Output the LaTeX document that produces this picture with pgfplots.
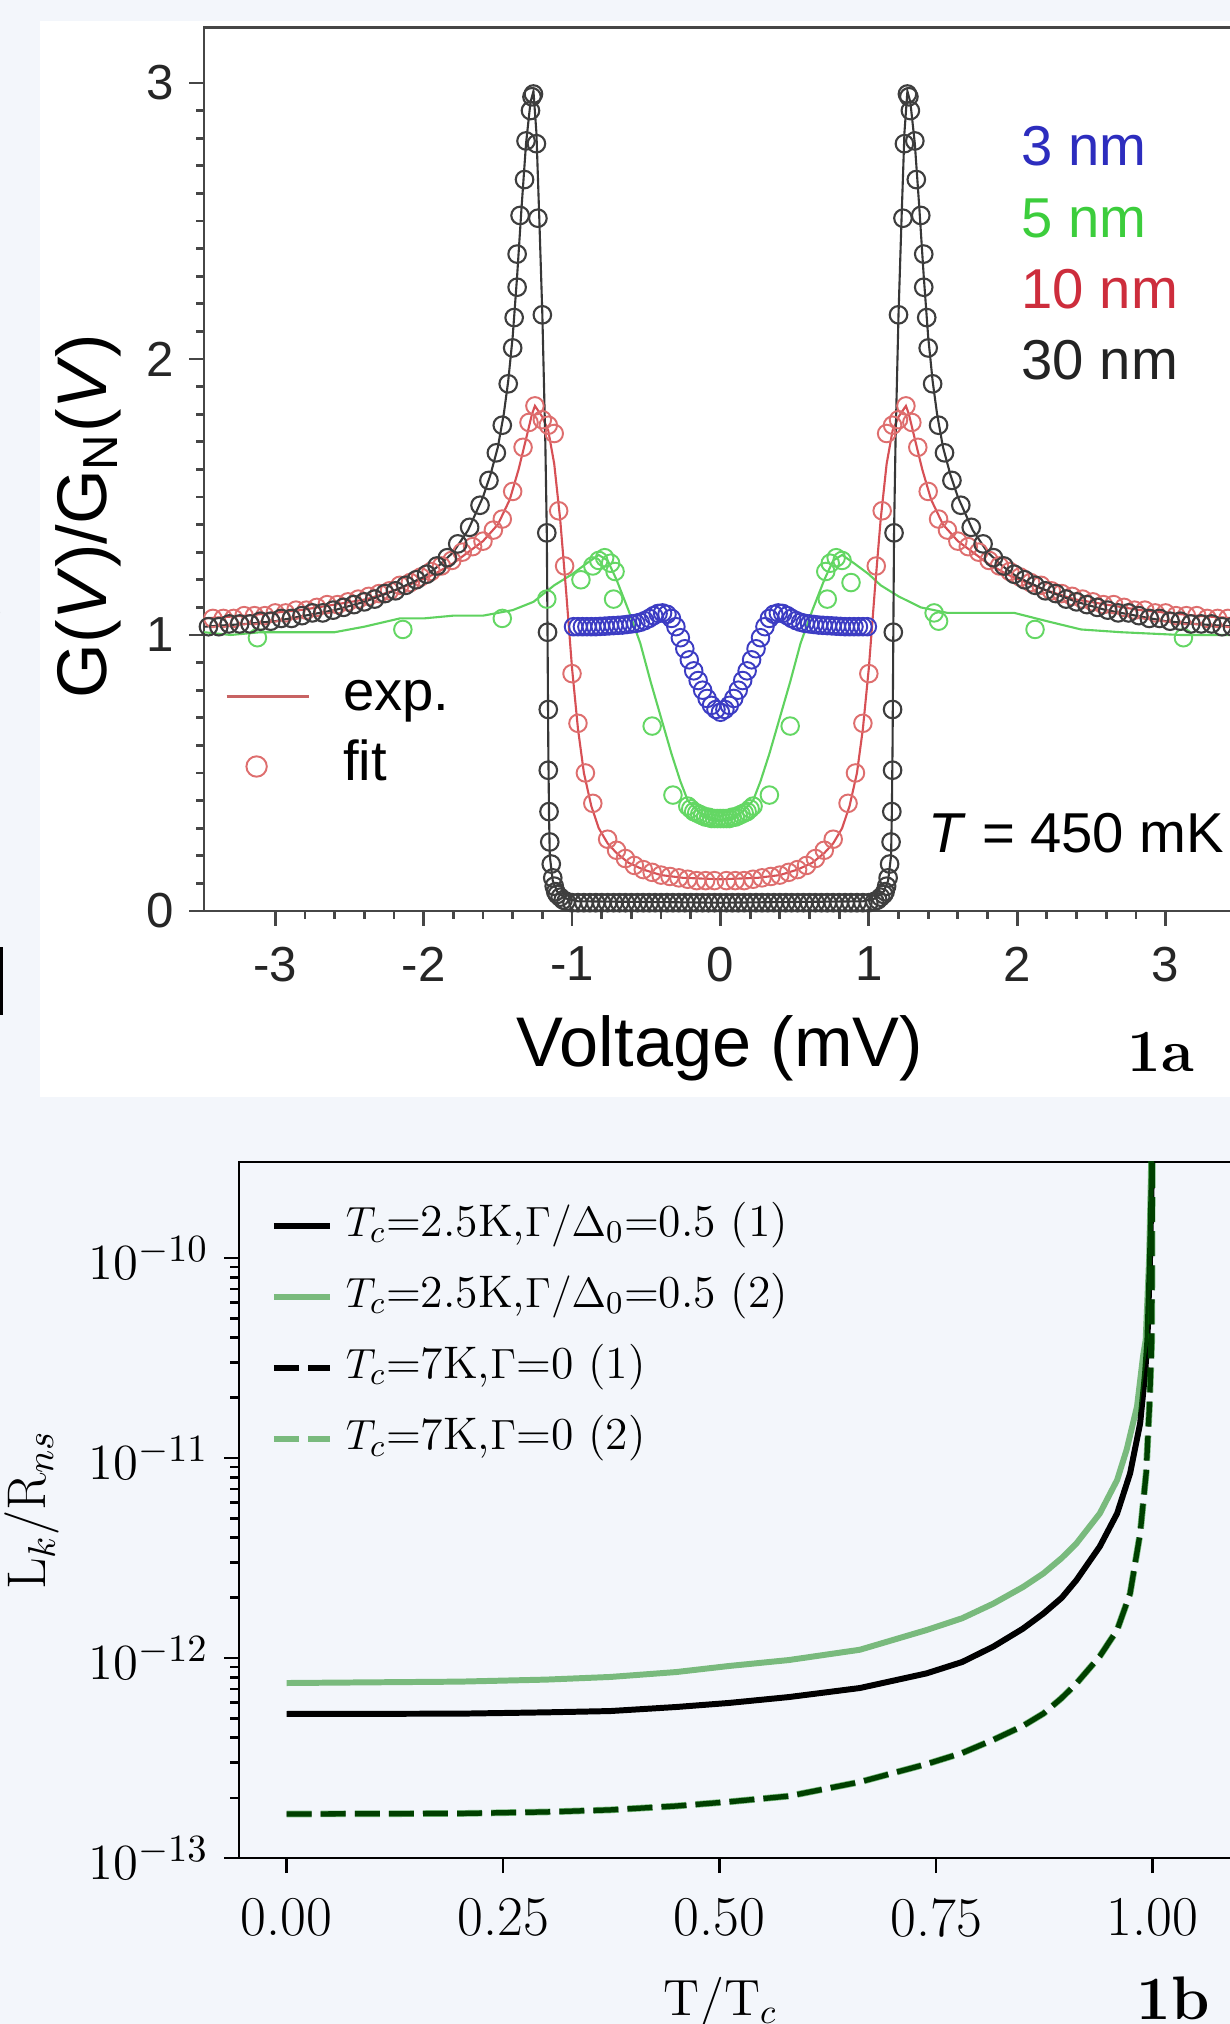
\documentclass[border=0pt]{standalone}
\usepackage{fontspec}
\newfontfamily\arial{Liberation Sans}
\usepackage{pgfplots}
\pgfplotsset{compat=1.18}
\definecolor{bgc}{RGB}{243,246,251}
\definecolor{cax}{RGB}{70,70,70}
\definecolor{blkl}{RGB}{55,55,55}
\definecolor{blkc}{RGB}{62,62,62}
\definecolor{redl}{RGB}{215,80,85}
\definecolor{redc}{RGB}{222,110,110}
\definecolor{grnl}{RGB}{95,210,95}
\definecolor{grnc}{RGB}{100,215,100}
\definecolor{blu}{RGB}{60,60,195}
\definecolor{gpl}{RGB}{0,128,0}
\definecolor{tthree}{RGB}{45,45,190}
\definecolor{tfive}{RGB}{60,205,60}
\definecolor{tten}{RGB}{205,45,60}
\definecolor{tthirty}{RGB}{35,35,35}
\begin{document}
\begin{tikzpicture}
\useasboundingbox (0,0) rectangle (12.30,20.24);
\fill[bgc] (0,0) rectangle (12.30,20.24);
\begin{scope}
\clip (0,0) rectangle (12.30,20.24);
\fill[white] (0.40,9.27) rectangle (12.30,20.03);
% cropped fragments at the left edge
\node[anchor=east,inner sep=0pt,font=\bfseries\fontsize{20}{20}\selectfont] at (0.09,14.11) {)};
\fill[black] (0,10.09) rectangle (0.03,10.77);
\node[anchor=east,inner sep=0pt,font=\bfseries\fontsize{16}{16}\selectfont] at (0.06,8.26) {)};
%================ TOP PANEL =================
\begin{axis}[
  at={(2.04cm,11.13cm)}, anchor=south west, scale only axis,
  width=10.358cm, height=8.832cm,
  xmin=-3.48, xmax=3.5, ymin=0, ymax=3.2,
  clip=false,
  axis line style={draw=cax, line width=0.8pt},
  tick style={draw=cax, line width=0.8pt},
  tick align=outside, tick pos=left,
  major tick length=0.15cm, minor tick length=0.08cm,
  xtick={-3,-2,-1,0,1,2,3}, minor x tick num=4,
  ytick={0,1,2,3}, minor y tick num=9,
  /pgf/number format/assume math mode=true,
  tick label style={font=\arial\fontsize{14}{17}\selectfont, text=black!85},
  xticklabel style={anchor=north, inner sep=0pt, yshift=-0.2cm},
  yticklabel style={anchor=east, inner sep=0pt, xshift=-0.14cm},
  legend style={at={(rel axis cs:0.0203,0.2729)}, anchor=north west, draw=none, fill=none,
    inner sep=0pt, outer sep=0pt, row sep=0.18cm, column sep=0.33cm,
    font=\arial\fontsize{16}{19}\selectfont,
    nodes={inner sep=0pt, text height=11.5pt, text depth=3.4pt}},
  legend cell align=left,
  every axis plot/.append style={mark size=2.5pt},
]
\addlegendimage{legend image code/.code={\draw[redc!90!black, line width=0.9pt] (0cm,0cm) -- (0.82cm,0cm);}}
\addlegendentry{exp.}
\addlegendimage{only marks, mark=o, mark size=2.9pt, mark options={draw=redc, line width=0.55pt}}
\addlegendentry{fit}
% green 5 nm
\addplot[grnl, line width=0.6pt, forget plot] coordinates {
(-3.48,1.01) (-3.3,1.00) (-3.1,1.01) (-2.9,1.01) (-2.6,1.01) (-2.4,1.03) (-2.16,1.06) (-2.0,1.06) (-1.8,1.07) (-1.6,1.07) (-1.4,1.09) (-1.26,1.12) (-1.12,1.18) (-1.0,1.22) (-0.9,1.26) (-0.82,1.29) (-0.76,1.27) (-0.70,1.20) (-0.62,1.09) (-0.54,0.97) (-0.47,0.83) (-0.40,0.70) (-0.33,0.57) (-0.27,0.47) (-0.22,0.40) (-0.15,0.36) (-0.08,0.34) (0,0.33) (0.08,0.34) (0.15,0.36) (0.22,0.40) (0.27,0.47) (0.33,0.57) (0.40,0.70) (0.47,0.83) (0.54,0.97) (0.62,1.09) (0.70,1.20) (0.76,1.27) (0.82,1.29) (0.9,1.26) (1.0,1.22) (1.08,1.18) (1.2,1.14) (1.35,1.10) (1.53,1.08) (1.75,1.08) (1.98,1.08) (2.2,1.05) (2.43,1.02) (2.7,1.01) (3.1,1.00) (3.48,1.00)};
\addplot[only marks, mark=o, mark options={draw=grnc, line width=0.55pt}, forget plot] coordinates {
(-3.12,0.99) (-2.14,1.02) (-1.47,1.06) (-1.17,1.13) (-0.94,1.20) (-0.86,1.25) (-0.82,1.27) (-0.78,1.28) (-0.74,1.26) (-0.71,1.23) (-0.72,1.13) (-0.46,0.67) (-0.32,0.42) (-0.22,0.38) (-0.20,0.37) (-0.18,0.36) (-0.16,0.355) (-0.14,0.35) (-0.12,0.345) (-0.10,0.34) (-0.08,0.34) (-0.06,0.335) (-0.04,0.335) (-0.02,0.335) (0,0.335) (0.02,0.335) (0.04,0.335) (0.06,0.335) (0.08,0.34) (0.10,0.34) (0.12,0.345) (0.14,0.35) (0.16,0.355) (0.18,0.36) (0.20,0.37) (0.22,0.38) (0.33,0.42) (0.47,0.67) (0.72,1.13) (0.71,1.23) (0.74,1.26) (0.78,1.28) (0.82,1.27) (0.88,1.19) (1.44,1.08) (1.47,1.05) (2.12,1.02) (3.12,0.99)};
% red 10 nm
\addplot[redl, line width=0.6pt, forget plot] coordinates {
(-3.48,1.06) (-3.2,1.07) (-2.83,1.09) (-2.6,1.11) (-2.38,1.13) (-2.15,1.17) (-1.93,1.22) (-1.8,1.26) (-1.7,1.30) (-1.6,1.34) (-1.5,1.40) (-1.42,1.49) (-1.36,1.60) (-1.31,1.71) (-1.27,1.80) (-1.25,1.83) (-1.20,1.79) (-1.16,1.74) (-1.12,1.62) (-1.08,1.42) (-1.04,1.16) (-1.00,0.88) (-0.96,0.66) (-0.92,0.50) (-0.87,0.38) (-0.82,0.30) (-0.76,0.245) (-0.70,0.21) (-0.62,0.175) (-0.52,0.15) (-0.40,0.13) (-0.25,0.12) (0,0.115) (0.25,0.12) (0.40,0.13) (0.52,0.15) (0.62,0.175) (0.70,0.21) (0.76,0.245) (0.82,0.30) (0.87,0.38) (0.92,0.50) (0.96,0.66) (1.00,0.88) (1.04,1.16) (1.08,1.42) (1.12,1.62) (1.16,1.74) (1.20,1.79) (1.25,1.83) (1.27,1.80) (1.31,1.71) (1.36,1.60) (1.42,1.49) (1.5,1.40) (1.6,1.34) (1.7,1.30) (1.8,1.26) (1.93,1.22) (2.15,1.17) (2.38,1.13) (2.6,1.11) (2.83,1.09) (3.2,1.07) (3.48,1.06)};
\addplot[only marks, mark=o, mark options={draw=redc, line width=0.55pt}, forget plot] coordinates {
(-3.42,1.06) (-3.35,1.06) (-3.28,1.06) (-3.21,1.07) (-3.14,1.07) (-3.07,1.07) (-3.00,1.08) (-2.93,1.08) (-2.86,1.09) (-2.79,1.09) (-2.72,1.10) (-2.65,1.11) (-2.58,1.11) (-2.51,1.12) (-2.44,1.13) (-2.37,1.14) (-2.30,1.15) (-2.23,1.16) (-2.16,1.18) (-2.09,1.19) (-2.02,1.21) (-1.95,1.23) (-1.88,1.25) (-1.81,1.27) (-1.74,1.30) (-1.67,1.32) (-1.60,1.34) (-1.53,1.38) (-1.47,1.42) (-1.40,1.52) (-1.33,1.68) (-1.29,1.77) (-1.25,1.83) (-1.20,1.78) (-1.16,1.76) (-1.12,1.73) (-1.09,1.45) (-1.05,1.25) (-1.00,0.86) (-0.96,0.68) (-0.91,0.50) (-0.86,0.39) (-0.76,0.26) (-0.70,0.22) (-0.64,0.19) (-0.58,0.165) (-0.52,0.15) (-0.46,0.14) (-0.40,0.13) (-0.34,0.125) (-0.28,0.12) (-0.22,0.115) (-0.16,0.11) (-0.10,0.11) (-0.04,0.11)
(0.04,0.11) (0.10,0.11) (0.16,0.11) (0.22,0.115) (0.28,0.12) (0.34,0.125) (0.40,0.13) (0.46,0.14) (0.52,0.15) (0.58,0.165) (0.64,0.19) (0.70,0.22) (0.76,0.26) (0.86,0.39) (0.91,0.50) (0.96,0.68) (1.00,0.86) (1.05,1.25) (1.09,1.45) (1.12,1.73) (1.16,1.76) (1.20,1.78) (1.25,1.83) (1.29,1.77) (1.33,1.68) (1.40,1.52) (1.47,1.42) (1.53,1.38) (1.60,1.34) (1.67,1.32) (1.74,1.30) (1.81,1.27) (1.88,1.25) (1.95,1.23) (2.02,1.21) (2.09,1.19) (2.16,1.18) (2.23,1.16) (2.30,1.15) (2.37,1.14) (2.44,1.13) (2.51,1.12) (2.58,1.11) (2.65,1.11) (2.72,1.10) (2.79,1.09) (2.86,1.09) (2.93,1.08) (3.00,1.08) (3.07,1.07) (3.14,1.07) (3.21,1.07) (3.28,1.06) (3.35,1.06) (3.42,1.06)};
% black 30 nm
\addplot[blkl, line width=0.6pt, forget plot] coordinates {
(-3.48,1.03) (-3.2,1.04) (-3.0,1.05) (-2.8,1.07) (-2.6,1.09) (-2.4,1.12) (-2.2,1.16) (-2.0,1.21) (-1.9,1.25) (-1.8,1.30) (-1.7,1.38) (-1.6,1.50) (-1.55,1.58) (-1.50,1.68) (-1.46,1.80) (-1.43,1.92) (-1.40,2.08) (-1.37,2.30) (-1.34,2.55) (-1.31,2.78) (-1.28,2.93) (-1.26,2.97) (-1.24,2.82) (-1.22,2.50) (-1.20,2.16) (-1.18,1.70) (-1.17,1.37) (-1.165,1.0) (-1.16,0.6) (-1.155,0.35) (-1.15,0.2) (-1.13,0.11) (-1.10,0.07) (-1.04,0.045) (-0.96,0.035) (0,0.03) (0.96,0.035) (1.04,0.045) (1.10,0.07) (1.13,0.11) (1.15,0.2) (1.155,0.35) (1.16,0.6) (1.165,1.0) (1.17,1.37) (1.18,1.70) (1.20,2.16) (1.22,2.50) (1.24,2.82) (1.26,2.97) (1.28,2.93) (1.31,2.78) (1.34,2.55) (1.37,2.30) (1.40,2.08) (1.43,1.92) (1.46,1.80) (1.50,1.68) (1.55,1.58) (1.6,1.50) (1.7,1.38) (1.8,1.30) (1.9,1.25) (2.0,1.21) (2.2,1.16) (2.4,1.12) (2.6,1.09) (2.8,1.07) (3.0,1.05) (3.2,1.04) (3.48,1.03)};
\addplot[only marks, mark=o, mark options={draw=blkc, line width=0.6pt}, forget plot] coordinates {
(-3.45,1.03) (-3.38,1.03) (-3.31,1.04) (-3.24,1.04) (-3.17,1.04) (-3.10,1.05) (-3.03,1.05) (-2.96,1.06) (-2.89,1.06) (-2.82,1.07) (-2.75,1.08) (-2.68,1.08) (-2.61,1.09) (-2.54,1.10) (-2.47,1.11) (-2.40,1.12) (-2.33,1.13) (-2.26,1.15) (-2.19,1.16) (-2.12,1.18) (-2.05,1.20) (-1.98,1.22) (-1.91,1.25) (-1.84,1.28) (-1.77,1.33) (-1.69,1.39) (-1.62,1.47) (-1.56,1.56) (-1.51,1.66) (-1.47,1.76) (-1.43,1.91) (-1.40,2.04) (-1.39,2.15) (-1.37,2.26) (-1.37,2.38) (-1.35,2.52) (-1.32,2.65) (-1.31,2.79) (-1.28,2.90) (-1.27,2.95) (-1.26,2.96) (-1.24,2.78) (-1.23,2.51) (-1.20,2.16) (-1.17,1.37) (-1.165,1.01) (-1.16,0.73) (-1.16,0.51) (-1.155,0.36) (-1.15,0.25) (-1.14,0.17) (-1.13,0.12) (-1.12,0.09) (-1.11,0.07) (-1.10,0.06) (-1.08,0.05) (-1.06,0.04) (-1.04,0.035)
(-1.00,0.03) (-0.96,0.03) (-0.92,0.03) (-0.88,0.03) (-0.84,0.03) (-0.80,0.03) (-0.76,0.03) (-0.72,0.03) (-0.68,0.03) (-0.64,0.03) (-0.60,0.03) (-0.56,0.03) (-0.52,0.03) (-0.48,0.03) (-0.44,0.03) (-0.40,0.03) (-0.36,0.03) (-0.32,0.03) (-0.28,0.03) (-0.24,0.03) (-0.20,0.03) (-0.16,0.03) (-0.12,0.03) (-0.08,0.03) (-0.04,0.03) (0,0.03) (0.04,0.03) (0.08,0.03) (0.12,0.03) (0.16,0.03) (0.20,0.03) (0.24,0.03) (0.28,0.03) (0.32,0.03) (0.36,0.03) (0.40,0.03) (0.44,0.03) (0.48,0.03) (0.52,0.03) (0.56,0.03) (0.60,0.03) (0.64,0.03) (0.68,0.03) (0.72,0.03) (0.76,0.03) (0.80,0.03) (0.84,0.03) (0.88,0.03) (0.92,0.03) (0.96,0.03) (1.00,0.03)
(1.04,0.035) (1.06,0.04) (1.08,0.05) (1.10,0.06) (1.11,0.07) (1.12,0.09) (1.13,0.12) (1.14,0.17) (1.15,0.25) (1.155,0.36) (1.16,0.51) (1.16,0.73) (1.165,1.01) (1.17,1.37) (1.20,2.16) (1.23,2.51) (1.24,2.78) (1.26,2.96) (1.27,2.95) (1.28,2.90) (1.31,2.79) (1.32,2.65) (1.35,2.52) (1.37,2.38) (1.37,2.26) (1.39,2.15) (1.40,2.04) (1.43,1.91) (1.47,1.76) (1.51,1.66) (1.56,1.56) (1.62,1.47) (1.69,1.39) (1.77,1.33) (1.84,1.28) (1.91,1.25) (1.98,1.22) (2.05,1.20) (2.12,1.18) (2.19,1.16) (2.26,1.15) (2.33,1.13) (2.40,1.12) (2.47,1.11) (2.54,1.10) (2.61,1.09) (2.68,1.08) (2.75,1.08) (2.82,1.07) (2.89,1.06) (2.96,1.06) (3.03,1.05) (3.10,1.05) (3.17,1.04) (3.24,1.04) (3.31,1.04) (3.38,1.03) (3.45,1.03)};
% blue 3 nm
\addplot[only marks, mark=o, mark options={draw=blu, line width=0.55pt}, forget plot] coordinates {
(-0.99,1.03) (-0.96,1.03) (-0.93,1.03) (-0.90,1.03) (-0.87,1.03) (-0.84,1.03) (-0.81,1.031) (-0.78,1.032) (-0.75,1.033) (-0.72,1.034) (-0.69,1.035) (-0.66,1.036) (-0.63,1.038) (-0.60,1.04) (-0.57,1.042) (-0.54,1.046) (-0.51,1.052) (-0.48,1.06) (-0.45,1.07) (-0.42,1.078) (-0.39,1.08) (-0.36,1.075) (-0.33,1.06) (-0.30,1.03) (-0.27,0.99) (-0.24,0.95) (-0.21,0.91) (-0.18,0.87) (-0.15,0.835) (-0.12,0.80) (-0.09,0.77) (-0.06,0.745) (-0.03,0.73) (0,0.72) (0.03,0.73) (0.06,0.745) (0.09,0.77) (0.12,0.80) (0.15,0.835) (0.18,0.87) (0.21,0.91) (0.24,0.95) (0.27,0.99) (0.30,1.03) (0.33,1.06) (0.36,1.075) (0.39,1.08) (0.42,1.078) (0.45,1.07) (0.48,1.06) (0.51,1.052) (0.54,1.046) (0.57,1.042) (0.60,1.04) (0.63,1.038) (0.66,1.036) (0.69,1.035) (0.72,1.034) (0.75,1.033) (0.78,1.032) (0.81,1.031) (0.84,1.03) (0.87,1.03) (0.90,1.03) (0.93,1.03) (0.96,1.03) (0.99,1.03)};
\end{axis}
% top panel texts
\node[rotate=90, inner sep=0pt, font=\arial\fontsize{20}{24}\selectfont] at (0.88,15.08) {G(\textit{V})/G\textsubscript{N}(\textit{V})};
\node[inner sep=0pt, font=\arial\fontsize{20}{24}\selectfont] at (7.20,9.76) {Voltage (mV)};
\node[anchor=base, inner sep=0pt, font=\bfseries\fontsize{17}{20}\selectfont] at (11.61,9.52) {1a};
\node[anchor=base west, inner sep=0pt, text=tthree, font=\arial\fontsize{16}{19}\selectfont] at (10.21,18.58) {3 nm};
\node[anchor=base west, inner sep=0pt, text=tfive, font=\arial\fontsize{16}{19}\selectfont] at (10.21,17.86) {5 nm};
\node[anchor=base west, inner sep=0pt, text=tten, font=\arial\fontsize{16}{19}\selectfont] at (10.21,17.15) {10 nm};
\node[anchor=base west, inner sep=0pt, text=tthirty, font=\arial\fontsize{16}{19}\selectfont] at (10.21,16.44) {30 nm};
\node[anchor=base west, inner sep=0pt, font=\arial\fontsize{16}{19}\selectfont] at (9.28,11.71) {\textit{T} = 450 mK};
%================ BOTTOM PANEL =================
\begin{axis}[
  at={(2.39cm,1.66cm)}, anchor=south west, scale only axis,
  width=10.002cm, height=6.96cm,
  xmin=-0.055, xmax=1.1, ymode=log, ymin=1e-13, ymax=3.02e-10,
  axis line style={draw=black, line width=0.75pt},
  tick style={draw=black, line width=0.75pt},
  tick align=outside, tick pos=left,
  major tick length=0.15cm, minor tick length=0.09cm,
  xtick={0,0.25,0.5,0.75,1}, xticklabels={0.00,0.25,0.50,0.75,1.00},
  xticklabel style={font=\fontsize{16}{19}\selectfont, anchor=north, inner sep=0pt, yshift=-0.25cm},
  yticklabel style={font=\fontsize{15.5}{18}\selectfont, anchor=east, inner sep=0pt, xshift=-0.15cm},
  legend style={at={(rel axis cs:0.032,0.944)}, anchor=north west, draw=none, fill=none,
    inner sep=0pt, outer sep=0pt, row sep=0.22cm, column sep=0.13cm,
    font=\fontsize{13}{16}\selectfont,
    nodes={inner sep=0pt, text height=10pt, text depth=4pt}},
  legend cell align=left,
  legend image code/.code={\draw[#1] (0cm,0cm) -- (0.56cm,0cm);},
]
\addlegendimage{black, line width=1.7pt}
\addlegendentry{$T_c$=2.5K,$\Gamma/\Delta_0$=0.5 (1)}
\addlegendimage{gpl, opacity=0.5, line width=1.7pt}
\addlegendentry{$T_c$=2.5K,$\Gamma/\Delta_0$=0.5 (2)}
\addlegendimage{black, line width=1.7pt, dash pattern=on 7.1pt off 2.6pt}
\addlegendentry{$T_c$=7K,$\Gamma$=0 (1)}
\addlegendimage{gpl, opacity=0.5, line width=1.7pt, dash pattern=on 7.1pt off 2.6pt}
\addlegendentry{$T_c$=7K,$\Gamma$=0 (2)}
\addplot[black, line width=1.7pt, forget plot] coordinates {
(0,5.25e-13) (0.2,5.27e-13) (0.3,5.35e-13) (0.3736,5.43e-13) (0.45,5.69e-13) (0.5105,5.96e-13) (0.58,6.38e-13) (0.662,7.08e-13) (0.739,8.38e-13) (0.78,9.55e-13) (0.816,1.14e-12) (0.85,1.40e-12) (0.874,1.67e-12) (0.895,2.0e-12) (0.912,2.45e-12) (0.939,3.61e-12) (0.959,5.28e-12) (0.974,8.38e-12) (0.9856,1.49e-11) (0.9913,2.65e-11) (0.994,3.89e-11) (0.997,1e-10) (0.999,2.51e-10) (1.0,1e-9)};
\addplot[gpl, opacity=0.5, line width=1.7pt, forget plot] coordinates {
(0,7.5e-13) (0.2,7.62e-13) (0.3,7.8e-13) (0.3736,8.04e-13) (0.45,8.51e-13) (0.5105,9.12e-13) (0.58,9.77e-13) (0.662,1.10e-12) (0.739,1.38e-12) (0.78,1.58e-12) (0.816,1.87e-12) (0.85,2.26e-12) (0.874,2.65e-12) (0.895,3.16e-12) (0.912,3.74e-12) (0.939,5.28e-12) (0.959,7.76e-12) (0.970,1.10e-11) (0.982,1.81e-11) (0.989,3.24e-11) (0.992,3.89e-11) (0.996,1e-10) (0.998,2.51e-10) (1.0,1e-9)};
\addplot[black, line width=1.5pt, dash pattern=on 7.1pt off 2.6pt, forget plot] coordinates {
(0,1.66e-13) (0.2,1.67e-13) (0.3,1.70e-13) (0.3736,1.74e-13) (0.45,1.82e-13) (0.5105,1.91e-13) (0.58,2.04e-13) (0.662,2.40e-13) (0.739,2.95e-13) (0.78,3.35e-13) (0.816,3.90e-13) (0.85,4.57e-13) (0.874,5.28e-13) (0.895,6.31e-13) (0.912,7.46e-13) (0.939,1.02e-12) (0.959,1.38e-12) (0.974,2.10e-12) (0.9856,4.20e-12) (0.9925,8.38e-12) (0.9963,1.81e-11) (0.999,3.89e-11) (1.0,1e-9)};
\addplot[gpl, opacity=0.5, line width=1.9pt, dash pattern=on 7.1pt off 2.6pt, forget plot] coordinates {
(0,1.66e-13) (0.2,1.67e-13) (0.3,1.70e-13) (0.3736,1.74e-13) (0.45,1.82e-13) (0.5105,1.91e-13) (0.58,2.04e-13) (0.662,2.40e-13) (0.739,2.95e-13) (0.78,3.35e-13) (0.816,3.90e-13) (0.85,4.57e-13) (0.874,5.28e-13) (0.895,6.31e-13) (0.912,7.46e-13) (0.939,1.02e-12) (0.959,1.38e-12) (0.974,2.10e-12) (0.9856,4.20e-12) (0.9925,8.38e-12) (0.9963,1.81e-11) (0.999,3.89e-11) (1.0,1e-9)};
\end{axis}
\node[rotate=90, inner sep=0pt, font=\fontsize{15.5}{18}\selectfont] at (0.32,5.14) {L$_k$/R$_{ns}$};
\node[anchor=base, inner sep=0pt, font=\fontsize{14.5}{17}\selectfont] at (7.20,0.08) {T/T$_c$};
\node[anchor=base, inner sep=0pt, font=\bfseries\fontsize{17.5}{20}\selectfont] at (11.73,0.04) {1b};
\end{scope}
\end{tikzpicture}
\end{document}
